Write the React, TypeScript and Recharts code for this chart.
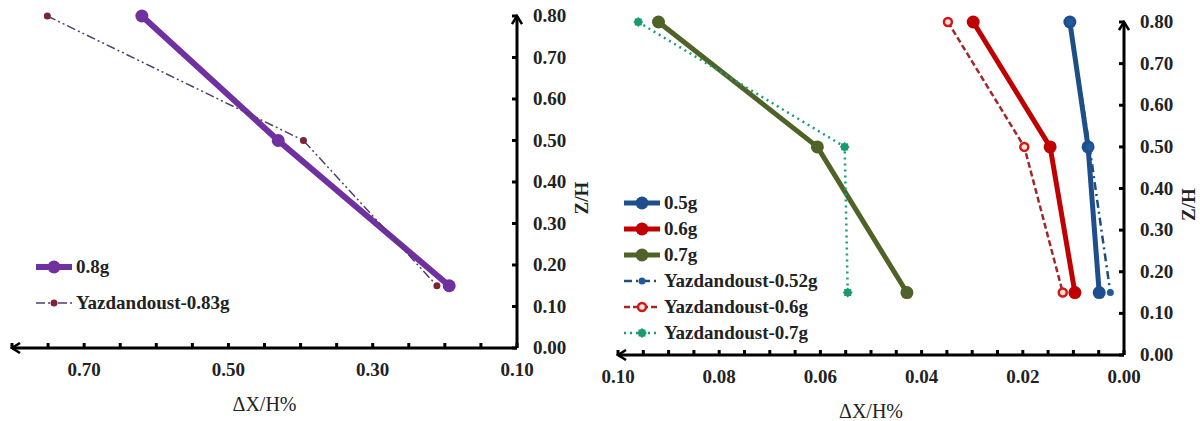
import React from "react";
import { LineChart, Line, XAxis, YAxis, Legend } from "recharts";

// shared z/H levels of the three measuring points
const zLevels = [0.8, 0.5, 0.15];

// left panel
const left08g = [0.62, 0.431, 0.194];
const leftYaz083 = [0.751, 0.396, 0.211];
const leftXTicks = [0.1, 0.15, 0.2, 0.25, 0.3, 0.35, 0.4, 0.45, 0.5, 0.55, 0.6, 0.65, 0.7, 0.75, 0.8];
const leftXLabels = [0.1, 0.3, 0.5, 0.7];

// right panel
const right05g = [0.0107, 0.0071, 0.0049];
const right06g = [0.0298, 0.0146, 0.0097];
const right07g = [0.092, 0.0606, 0.0429];
const rightYaz052 = [0.0107, 0.0068, 0.0027];
const rightYaz06 = [0.0348, 0.0197, 0.0121];
const rightYaz07 = [0.096, 0.0552, 0.0546];
const rightXTicks = [0, 0.005, 0.01, 0.015, 0.02, 0.025, 0.03, 0.035, 0.04, 0.045, 0.05, 0.055, 0.06, 0.065, 0.07, 0.075, 0.08, 0.085, 0.09, 0.095, 0.1];
const rightXLabels = [0, 0.02, 0.04, 0.06, 0.08, 0.1];

const yTicks = [0, 0.1, 0.2, 0.3, 0.4, 0.5, 0.6, 0.7, 0.8];

const FONT = '"Liberation Serif", "Times New Roman", serif';

const toPts = (xs: number[]) => zLevels.map((z, i) => ({ x: xs[i], y: z }));

type Dot = "solid" | "small" | "open" | "star";
interface Series {
  name: string;
  values: number[];
  color: string;
  width: number;
  dash?: string;
  dot: Dot;
  dotColor?: string;
}

const leftSeries: Series[] = [
  { name: "0.8g", values: left08g, color: "#7030A0", width: 6, dot: "solid" },
  { name: "Yazdandoust-0.83g", values: leftYaz083, color: "#4E3F6E", width: 1.5, dash: "9 3 2 3 2 3", dot: "small", dotColor: "#7A2636" },
];

const rightSeries: Series[] = [
  { name: "0.5g", values: right05g, color: "#1F4E8C", width: 5, dot: "solid" },
  { name: "0.6g", values: right06g, color: "#C00000", width: 5, dot: "solid" },
  { name: "0.7g", values: right07g, color: "#4F6228", width: 5, dot: "solid" },
  { name: "Yazdandoust-0.52g", values: rightYaz052, color: "#1F4E79", width: 2.5, dash: "8 4 2 4", dot: "small", dotColor: "#1F5A9C" },
  { name: "Yazdandoust-0.6g", values: rightYaz06, color: "#A0282C", width: 2.5, dash: "6 3", dot: "open", dotColor: "#D01818" },
  { name: "Yazdandoust-0.7g", values: rightYaz07, color: "#1AA06E", width: 2.5, dash: "2 4", dot: "star", dotColor: "#1A9A70" },
];

function Marker({ cx, cy, s }: { cx: number; cy: number; s: Series }) {
  if (cx == null || cy == null) return null;
  if (s.dot === "solid") return <circle cx={cx} cy={cy} r={6.5} fill={s.color} />;
  if (s.dot === "small") return <circle cx={cx} cy={cy} r={3.5} fill={s.dotColor} />;
  if (s.dot === "open")
    return <circle cx={cx} cy={cy} r={4} fill="#F6E3D6" stroke={s.dotColor} strokeWidth={2.5} />;
  return (
    <g>
      <rect x={cx - 3.5} y={cy - 3.5} width={7} height={7} fill={s.dotColor} />
      <rect x={cx - 3.5} y={cy - 3.5} width={7} height={7} fill={s.dotColor} transform={`rotate(45 ${cx} ${cy})`} />
    </g>
  );
}

const same = (a: number, b: number) => Math.abs(a - b) < 1e-9;

function XTick(props: any) {
  const { x, y, payload, labels } = props;
  const axisY = y - 14;
  const show = labels.some((l: number) => same(l, payload.value));
  return (
    <g>
      <line x1={x} x2={x} y1={axisY} y2={axisY - 5} stroke="#000" strokeWidth={3} />
      {show && (
        <text x={x} y={y + 14} textAnchor="middle" fontFamily={FONT} fontWeight="bold" fontSize={19} fill="#222">
          {payload.value.toFixed(2)}
        </text>
      )}
    </g>
  );
}

function YTick(props: any) {
  const { x, y, payload } = props;
  const axisX = x - 10;
  return (
    <g>
      <line x1={axisX} x2={axisX - 5} y1={y} y2={y} stroke="#000" strokeWidth={3} />
      <text x={axisX + 16} y={y + 6} textAnchor="start" fontFamily={FONT} fontWeight="bold" fontSize={19} fill="#222">
        {payload.value.toFixed(2)}
      </text>
    </g>
  );
}

function ZLabel(props: any) {
  const vb = props.viewBox || {};
  const cx = vb.x + 64;
  const cy = vb.y + vb.height / 2 + 16;
  return (
    <text x={cx} y={cy} transform={`rotate(-90 ${cx} ${cy})`} textAnchor="middle" dominantBaseline="central"
      fontFamily={FONT} fontWeight="bold" fontSize={19} fill="#222">
      Z/H
    </text>
  );
}

function makeLegend(series: Series[], rowH: number) {
  return () => (
    <div style={{ fontFamily: FONT, fontWeight: "bold", fontSize: 19, color: "#222" }}>
      {series.map((s) => (
        <div key={s.name} style={{ display: "flex", alignItems: "center", height: rowH }}>
          <svg width={38} height={16} style={{ marginRight: 3 }}>
            <line x1={1} x2={37} y1={8} y2={8} stroke={s.color} strokeWidth={s.width} strokeDasharray={s.dash} />
            <Marker cx={19} cy={8} s={s} />
          </svg>
          <span>{s.name}</span>
        </div>
      ))}
    </div>
  );
}

function Arrow({ id }: { id: string }) {
  return (
    <defs>
      <marker id={id} viewBox="0 0 12 12" refX={10} refY={6} markerWidth={12} markerHeight={12}
        markerUnits="userSpaceOnUse" orient="auto-start-reverse">
        <path d="M2,1 L10,6 L2,11" fill="none" stroke="#000" strokeWidth={2.5} />
      </marker>
    </defs>
  );
}

function Panel(props: {
  series: Series[];
  xDomain: [number, number];
  xTicks: number[];
  xLabels: number[];
  margin: { top: number; right: number; bottom: number; left: number };
  legendPos: { left: number; top: number };
  rowH: number;
  arrowId: string;
}) {
  const { series, xDomain, xTicks, xLabels, margin, legendPos, rowH, arrowId } = props;
  return (
    <LineChart width={600} height={421} margin={margin}>
      <Arrow id={arrowId} />
      <XAxis
        type="number"
        dataKey="x"
        domain={xDomain}
        reversed
        ticks={xTicks}
        interval={0}
        height={65}
        tickSize={4}
        tickMargin={10}
        tickLine={false}
        tick={<XTick labels={xLabels} />}
        axisLine={{ stroke: "#000", strokeWidth: 3, markerStart: `url(#${arrowId})` }}
        label={{ value: "ΔX/H%", position: "insideBottom", offset: 2, fill: "#222", fontFamily: FONT, fontSize: 20 }}
      />
      <YAxis
        type="number"
        dataKey="y"
        orientation="right"
        domain={[0, 0.8]}
        ticks={yTicks}
        interval={0}
        width={75}
        tickSize={4}
        tickMargin={6}
        tickLine={false}
        tick={<YTick />}
        axisLine={{ stroke: "#000", strokeWidth: 3, markerStart: `url(#${arrowId})` }}
        label={<ZLabel />}
      />
      <Legend
        layout="vertical"
        align="center"
        verticalAlign="middle"
        wrapperStyle={{ left: legendPos.left, top: legendPos.top, width: "auto" }}
        content={makeLegend(series, rowH)}
      />
      {series.map((s) => (
        <Line
          key={s.name}
          name={s.name}
          data={toPts(s.values)}
          dataKey="y"
          stroke={s.color}
          strokeWidth={s.width}
          strokeDasharray={s.dash}
          dot={(p: any) => <Marker key={`${s.name}-${p.index}`} cx={p.cx} cy={p.cy} s={s} />}
          activeDot={false}
          isAnimationActive={false}
        />
      ))}
    </LineChart>
  );
}

export default function App() {
  return (
    <div style={{ position: "absolute", left: 0, top: 0, width: 1200, height: 421, background: "#fff", display: "flex" }}>
      <Panel
        series={leftSeries}
        xDomain={[0.1, 0.8]}
        xTicks={leftXTicks}
        xLabels={leftXLabels}
        margin={{ top: 16, right: 8, bottom: 8, left: 12 }}
        legendPos={{ left: 35, top: 249 }}
        rowH={36}
        arrowId="arrL"
      />
      <Panel
        series={rightSeries}
        xDomain={[0, 0.1]}
        xTicks={rightXTicks}
        xLabels={rightXLabels}
        margin={{ top: 22, right: 1, bottom: 1, left: 18 }}
        legendPos={{ left: 23, top: 190 }}
        rowH={26}
        arrowId="arrR"
      />
    </div>
  );
}
